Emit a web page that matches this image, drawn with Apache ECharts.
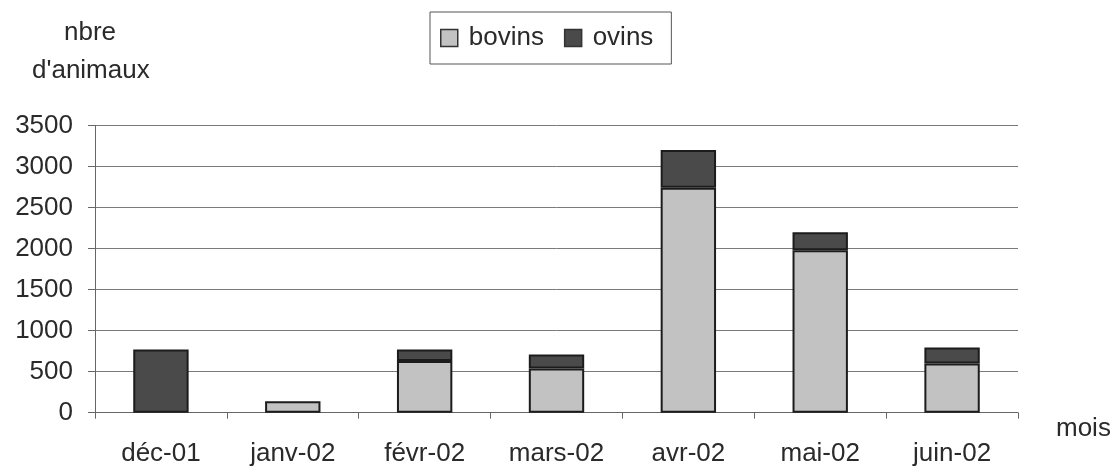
<!DOCTYPE html>
<html>
<head>
<meta charset="utf-8">
<script src="https://cdn.jsdelivr.net/npm/echarts@6/dist/echarts.min.js"></script>
<style>
  html, body { margin: 0; padding: 0; background: #fff; }
  #chart { width: 1116px; height: 470px; }
</style>
</head>
<body>
<div id="chart"></div>
<script>
// Monthly number of animals, by species
const months = ['déc-01', 'janv-02', 'févr-02', 'mars-02', 'avr-02', 'mai-02', 'juin-02'];
const bovins = [0, 140, 630, 540, 2740, 1980, 600];
const ovins = [770, 0, 140, 170, 460, 220, 195];
const yTicks = { min: 0, max: 3500, step: 500 };

const FONT = '"Liberation Sans", Arial, sans-serif';
const SIZE = 26;
const TEXT = '#2a2a2a';

// an empty segment is left out rather than drawn as a flat outlined bar
const segment = (v) => (v === 0 ? '-' : v);

const chart = echarts.init(document.getElementById('chart'), null, { renderer: 'canvas' });

const barStyle = (fill) => ({
  color: fill,
  borderColor: '#1c1c1c',
  borderWidth: 2
});

chart.setOption({
  backgroundColor: '#ffffff',
  animation: false,
  textStyle: { fontFamily: FONT },
  grid: { left: 95, right: 98, top: 125.5, bottom: 57.3, containLabel: false },
  legend: {
    left: 430,
    top: 12,
    orient: 'horizontal',
    padding: [13, 18, 13, 10],
    itemGap: 20,
    itemWidth: 17,
    itemHeight: 17,
    borderColor: '#555',
    borderWidth: 1,
    textStyle: { fontSize: SIZE, color: TEXT, fontFamily: FONT, padding: [0, 0, 0, 6] },
    data: [
      { name: 'bovins', icon: 'rect', itemStyle: { color: '#c2c2c2', borderColor: '#333', borderWidth: 1.5 } },
      { name: 'ovins', icon: 'rect', itemStyle: { color: '#4a4a4a', borderColor: '#333', borderWidth: 1.5 } }
    ]
  },
  xAxis: {
    type: 'category',
    data: months,
    boundaryGap: true,
    axisLine: { show: true, lineStyle: { color: '#666', width: 1 } },
    axisTick: { show: true, alignWithLabel: false, length: 6, lineStyle: { color: '#666' } },
    axisLabel: { fontSize: SIZE, color: TEXT, margin: 28, fontFamily: FONT },
    splitLine: { show: false }
  },
  yAxis: {
    type: 'value',
    min: yTicks.min,
    max: yTicks.max,
    interval: yTicks.step,
    axisLine: { show: true, lineStyle: { color: '#666', width: 1 } },
    axisTick: { show: true, length: 7, lineStyle: { color: '#666' } },
    axisLabel: { fontSize: SIZE, color: TEXT, margin: 22, fontFamily: FONT, formatter: (v) => String(v) },
    splitLine: { show: true, lineStyle: { color: '#7a7a7a', width: 1 } }
  },
  series: [
    {
      name: 'bovins',
      type: 'bar',
      stack: 'animaux',
      data: bovins.map(segment),
      barWidth: '42%',
      itemStyle: barStyle('#c2c2c2')
    },
    {
      name: 'ovins',
      type: 'bar',
      stack: 'animaux',
      data: ovins.map(segment),
      barWidth: '42%',
      itemStyle: barStyle('#4a4a4a')
    }
  ],
  graphic: [
    {
      type: 'text', left: 64, top: 20,
      style: { text: 'nbre', font: SIZE + 'px ' + FONT, fill: TEXT }
    },
    {
      type: 'text', left: 32, top: 58,
      style: { text: "d'animaux", font: SIZE + 'px ' + FONT, fill: TEXT }
    },
    {
      type: 'text', left: 1056, top: 416,
      style: { text: 'mois', font: SIZE + 'px ' + FONT, fill: TEXT }
    }
  ]
});
</script>
</body>
</html>
